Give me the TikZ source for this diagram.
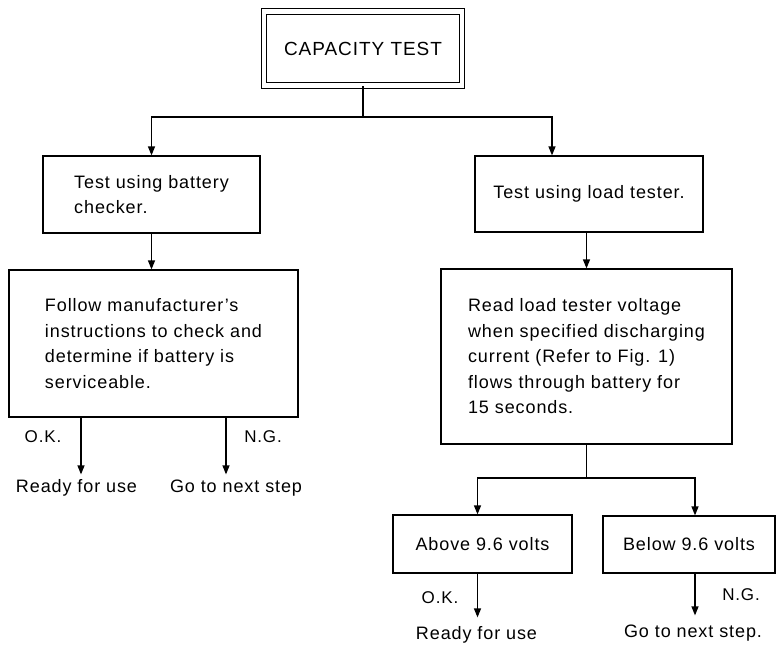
\documentclass[tikz,border=0pt]{standalone}
\usepackage{fontspec}
\setmainfont{Liberation Sans}[LetterSpace=5]
\usetikzlibrary{arrows.meta,positioning}

\begin{document}
\begin{tikzpicture}[x=1pt,y=-1pt,>={Triangle[width=7pt,length=9pt]},line width=1.2pt,
  ttl/.style={draw,double,double distance=4.4pt,line width=1.2pt,minimum width=198pt,minimum height=74pt,font=\fontsize{19}{24}\selectfont},
  bx/.style={draw,line width=1.2pt,inner sep=0pt,align=left,font=\fontsize{18}{25.5}\selectfont},
  lb/.style={inner sep=1pt,font=\fontsize{17}{20}\selectfont},
  en/.style={inner xsep=1pt,inner ysep=4.5pt,text height=13pt,text depth=4pt,font=\fontsize{18}{20}\selectfont}]
  \useasboundingbox (0,0) rectangle (777,646);
  \node[ttl] (cap) at (363,48.5) {CAPACITY TEST};
  \node[bx,minimum width=217pt,minimum height=77pt] (chk) at (151.5,194.5) {Test using battery\\checker.};
  \node[bx,minimum width=228pt,minimum height=76pt] (lod) at (589,194) {Test using load tester.};
  \node[bx,minimum width=289pt,minimum height=147pt] (man) at (153.5,343.5) {Follow manufacturer's\\instructions to check and\\determine if battery is\\serviceable.};
  \node[bx,minimum width=291pt,minimum height=175pt] (rd) at (586.5,356.5) {Read load tester voltage\\when specified discharging\\current (Refer to Fig. 1)\\flows through battery for\\15 seconds.};
  \node[bx,minimum width=179pt,minimum height=58pt] (abv) at (482.5,544) {Above 9.6 volts};
  \node[bx,minimum width=172pt,minimum height=57pt] (blw) at (689,544.5) {Below 9.6 volts};
  % end labels
  \node[lb] (ok1) at (43,437) {O.K.};\node[lb] (ng1) at (263,437) {N.G.};
  \node[en] (rdy1) at (76.5,488) {Ready for use};\node[en] (nxt1) at (236,488) {Go to next step};
  \node[lb] (ok2) at (440,598) {O.K.};\node[lb] (ng2) at (741,595) {N.G.};
  \node[en,inner ysep=8.5pt] (rdy2) at (476.5,635) {Ready for use};\node[en,inner ysep=8.5pt] (nxt2) at (693,633) {Go to next step.};
  \coordinate (j1) at (363,117);\coordinate (j2) at (586.5,478);
  \draw (cap) -- (j1);\draw[->] (j1) -| (chk);\draw[->] (j1) -| ([xshift=-37pt]lod.north);
  \draw[->] (chk) -- (chk |- man.north);\draw[->] (rd.north |- lod.south) -- (rd.north);
  \draw[->] ([xshift=-72.5pt]man.south) -- ([xshift=-72.5pt]man.south |- rdy1.north);
  \draw[->] ([xshift=72.5pt]man.south) -- ([xshift=72.5pt]man.south |- nxt1.north);
  \draw (rd) -- (j2);\draw[->] (j2) -| ([xshift=-5pt]abv.north);\draw[->] (j2) -| ([xshift=6pt]blw.north);
  \draw[->] ([xshift=-5pt]abv.south) -- ([xshift=-5pt]abv.south |- rdy2.north);
  \draw[->] ([xshift=6pt]blw.south) -- ([xshift=6pt]blw.south |- nxt2.north);
\end{tikzpicture}
\end{document}
